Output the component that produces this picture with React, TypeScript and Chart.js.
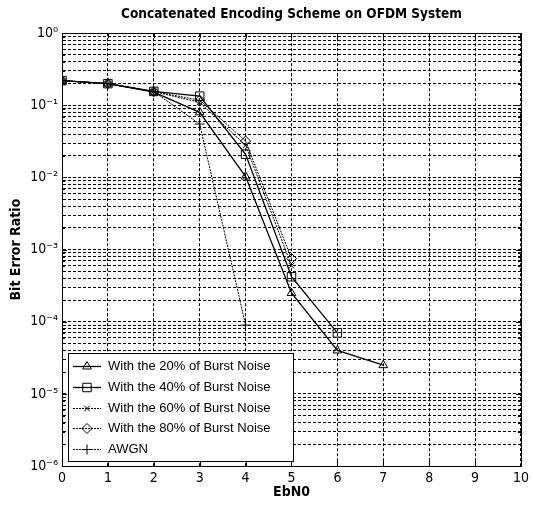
import React, { useEffect, useRef } from 'react';
import { Chart, registerables } from 'chart.js';
import { drawPoint } from 'chart.js/helpers';

Chart.register(...registerables);

const TITLE = 'Concatenated Encoding Scheme on OFDM System';
const X_LABEL = 'EbN0';
const Y_LABEL = 'Bit Error Ratio';

const EBN0 = [0, 1, 2, 3, 4, 5, 6, 7];
const BURST20 = [0.22, 0.2, 0.152, 0.08, 0.0103, 2.5e-4, 4e-5, 2.5e-5];
const BURST40 = [0.22, 0.2, 0.156, 0.134, 0.021, 4.2e-4, 7e-5];
const BURST60 = [0.22, 0.2, 0.155, 0.11, 0.028, 6e-4];
const BURST80 = [0.22, 0.2, 0.155, 0.118, 0.032, 7.5e-4];
const AWGN = [0.22, 0.2, 0.155, 0.055, 9e-5];

const SERIES_LABELS = [
  'With the 20% of Burst Noise',
  'With the 40% of Burst Noise',
  'With the 60% of Burst Noise',
  'With the 80% of Burst Noise',
  'AWGN',
];

const X_TICKS = [0, 1, 2, 3, 4, 5, 6, 7, 8, 9, 10];
const Y_EXPONENTS = [-6, -5, -4, -3, -2, -1, 0];
const Y_MULTIPLIERS = [1, 2, 3, 4, 5, 6, 7, 8, 9];

const SUP: Record<string, string> = {
  '-': '\u207B', '0': '\u2070', '1': '\u00B9', '2': '\u00B2', '3': '\u00B3',
  '4': '\u2074', '5': '\u2075', '6': '\u2076', '7': '\u2077', '8': '\u2078', '9': '\u2079',
};

const NARROW = "'Liberation Sans Narrow', 'Arial Narrow', 'DejaVu Sans Condensed', sans-serif";
const SANS = "'Liberation Sans', Arial, sans-serif";

function pts(vals: number[]) {
  return vals.map((v, i) => ({ x: EBN0[i], y: v }));
}

function yTickValues() {
  const out: number[] = [];
  Y_EXPONENTS.forEach((e) => {
    Y_MULTIPLIERS.forEach((m) => {
      const v = m * Math.pow(10, e);
      if (v <= 1 + 1e-12) out.push(v);
    });
  });
  return out;
}

const insideLegend = {
  id: 'insideLegend',
  afterDatasetsDraw(chart: any) {
    const { ctx, chartArea } = chart;
    const w = 225;
    const h = 108;
    const x0 = chartArea.left + 6;
    const y0 = chartArea.bottom - h - 5;
    ctx.save();
    ctx.fillStyle = '#fff';
    ctx.fillRect(x0, y0, w, h);
    ctx.strokeStyle = '#000';
    ctx.lineWidth = 1;
    ctx.setLineDash([]);
    ctx.strokeRect(Math.round(x0) + 0.5, Math.round(y0) + 0.5, w, h);
    ctx.font = `13px ${SANS}`;
    ctx.textBaseline = 'middle';
    chart.data.datasets.forEach((ds: any, i: number) => {
      const cy = Math.round(y0 + 13 + i * 20.75) + 0.5;
      ctx.strokeStyle = '#000';
      ctx.lineWidth = ds.borderWidth;
      ctx.setLineDash(ds.borderDash || []);
      ctx.beginPath();
      ctx.moveTo(x0 + 5, cy);
      ctx.lineTo(x0 + 33, cy);
      ctx.stroke();
      ctx.setLineDash([]);
      ctx.lineWidth = 1;
      ctx.fillStyle = 'rgba(0,0,0,0)';
      drawPoint(ctx, { pointStyle: ds.pointStyle, radius: ds.pointRadius, borderWidth: 1, rotation: 0 } as any, x0 + 19, cy);
      ctx.fillStyle = '#000';
      ctx.fillText(ds.label, x0 + 40, cy);
    });
    ctx.restore();
  },
};

const frame = {
  id: 'frame',
  afterDraw(chart: any) {
    const { ctx, chartArea, scales } = chart;
    const { left, right, top, bottom } = chartArea;
    ctx.save();
    ctx.strokeStyle = '#000';
    ctx.lineWidth = 1;
    ctx.setLineDash([]);
    ctx.beginPath();
    scales.x.ticks.forEach((t: any) => {
      const px = Math.round(scales.x.getPixelForValue(t.value)) + 0.5;
      ctx.moveTo(px, bottom);
      ctx.lineTo(px, bottom - 5);
      ctx.moveTo(px, top);
      ctx.lineTo(px, top + 5);
    });
    scales.y.ticks.forEach((t: any) => {
      const py = Math.round(scales.y.getPixelForValue(t.value)) + 0.5;
      const len = t.label ? 5 : 3;
      ctx.moveTo(left, py);
      ctx.lineTo(left + len, py);
      ctx.moveTo(right, py);
      ctx.lineTo(right - len, py);
    });
    ctx.stroke();
    ctx.strokeRect(Math.round(left) + 0.5, Math.round(top) + 0.5, Math.round(right - left), Math.round(bottom - top));
    ctx.restore();
  },
};

export default function App() {
  const ref = useRef<HTMLCanvasElement | null>(null);

  useEffect(() => {
    if (!ref.current) return;
    const styles = [
      { pointStyle: 'triangle', pointRadius: 5, borderWidth: 1.3, borderDash: [] as number[] },
      { pointStyle: 'rect', pointRadius: 6, borderWidth: 1.3, borderDash: [] as number[] },
      { pointStyle: 'crossRot', pointRadius: 4, borderWidth: 1, borderDash: [2, 1] },
      { pointStyle: 'rectRot', pointRadius: 5, borderWidth: 1, borderDash: [2, 1] },
      { pointStyle: 'cross', pointRadius: 5, borderWidth: 1, borderDash: [2, 1] },
    ];
    const series = [BURST20, BURST40, BURST60, BURST80, AWGN];
    const datasets = series.map((vals, i) => ({
      label: SERIES_LABELS[i],
      data: pts(vals),
      borderColor: '#000',
      backgroundColor: 'rgba(0,0,0,0)',
      pointBorderColor: '#000',
      pointBackgroundColor: 'rgba(0,0,0,0)',
      pointBorderWidth: 1,
      tension: 0,
      fill: false,
      ...styles[i],
    }));

    const chart = new Chart(ref.current, {
      type: 'line',
      data: { datasets },
      options: {
        responsive: false,
        animation: false,
        layout: { padding: { left: 8, right: 12, top: 0, bottom: 0 } },
        plugins: {
          legend: { display: false },
          tooltip: { enabled: false },
          title: {
            display: true,
            text: TITLE,
            color: '#000',
            fullSize: false,
            font: { family: NARROW, size: 13.5, weight: 'bold' },
            padding: { top: 6, bottom: 11 },
          },
        },
        scales: {
          x: {
            type: 'linear',
            min: 0,
            max: 10,
            afterBuildTicks: (s: any) => {
              s.ticks = X_TICKS.map((v) => ({ value: v }));
            },
            afterFit: (s: any) => {
              s.height = 50;
            },
            grid: { color: '#000', lineWidth: 1, drawTicks: false },
            border: { display: true, color: '#000', width: 1, dash: [3, 2] },
            ticks: {
              color: '#000',
              font: { family: NARROW, size: 14 },
              padding: 4,
              maxRotation: 0,
              autoSkip: false,
            },
            title: {
              display: true,
              text: X_LABEL,
              color: '#000',
              font: { family: NARROW, size: 14, weight: 'bold' },
              padding: { top: 0, bottom: 15 },
            },
          },
          y: {
            type: 'logarithmic',
            min: 1e-6,
            max: 1,
            afterBuildTicks: (s: any) => {
              s.ticks = yTickValues().map((v) => ({ value: v }));
            },
            afterFit: (s: any) => {
              s.width = 54;
            },
            grid: { color: '#000', lineWidth: 1, drawTicks: false },
            border: { display: true, color: '#000', width: 1, dash: [3, 2] },
            ticks: {
              color: '#000',
              font: { family: NARROW, size: 14 },
              padding: 4,
              autoSkip: false,
              callback: (value: any) => {
                const v = Number(value);
                const e = Math.log10(v);
                if (Math.abs(e - Math.round(e)) > 1e-9) return '';
                const exp = String(Math.round(e)).split('').map((c) => SUP[c] || c).join('');
                return '10' + exp;
              },
            },
            title: {
              display: true,
              text: Y_LABEL,
              color: '#000',
              font: { family: NARROW, size: 14, weight: 'bold' },
              padding: { top: 0, bottom: 0 },
            },
          },
        },
      },
      plugins: [insideLegend, frame],
    } as any);

    return () => chart.destroy();
  }, []);

  return (
    <div style={{ position: 'fixed', left: 0, top: 0, width: 533, height: 516, background: '#fff' }}>
      <canvas ref={ref} width={533} height={516} style={{ width: 533, height: 516, display: 'block' }} />
    </div>
  );
}
